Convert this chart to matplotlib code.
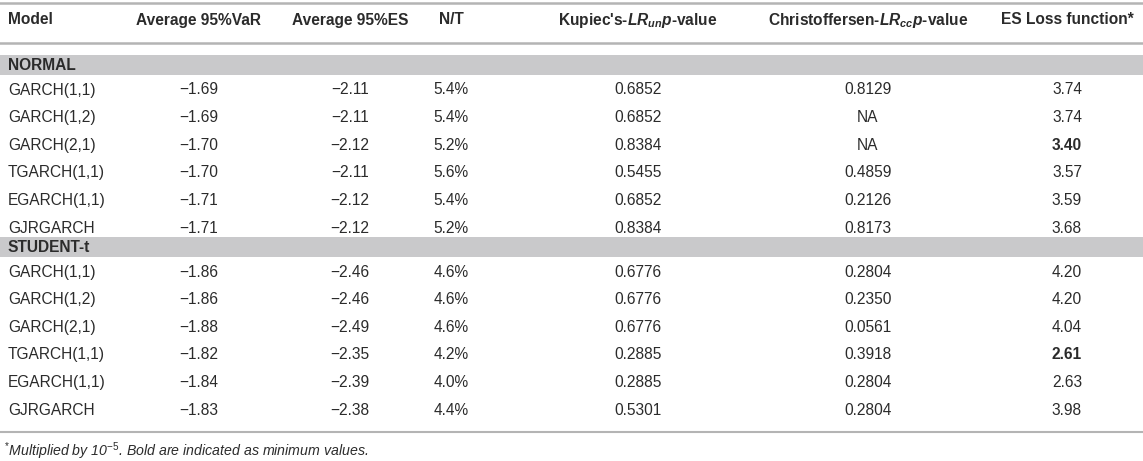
import matplotlib
matplotlib.use("Agg")
import matplotlib.pyplot as plt

plt.rcParams['font.family'] = ['Liberation Sans', 'DejaVu Sans']
plt.rcParams['mathtext.fontset'] = 'custom'
plt.rcParams['mathtext.rm'] = 'Liberation Sans'
plt.rcParams['mathtext.it'] = 'Liberation Sans:italic'
plt.rcParams['mathtext.bf'] = 'Liberation Sans:bold'
plt.rcParams['mathtext.bfit'] = 'Liberation Sans:italic:bold'

# table data
headers = ["Model", "Average 95%VaR", "Average 95%ES", "N/T",
           r"Kupiec's-$\mathbfit{LR}_{\mathbfit{un}}\mathbfit{p}$-value",
           r"Christoffersen-$\mathbfit{LR}_{\mathbfit{cc}}\mathbfit{p}$-value",
           "ES Loss function*"]
models = ["GARCH(1,1)", "GARCH(1,2)", "GARCH(2,1)", "TGARCH(1,1)", "EGARCH(1,1)", "GJRGARCH"]
groups = ["NORMAL", "STUDENT-t"]

normal_var = [-1.69, -1.69, -1.70, -1.70, -1.71, -1.71]
normal_es = [-2.11, -2.11, -2.12, -2.11, -2.12, -2.12]
normal_nt = [5.4, 5.4, 5.2, 5.6, 5.4, 5.2]
normal_kup = [0.6852, 0.6852, 0.8384, 0.5455, 0.6852, 0.8384]
normal_chr = [0.8129, None, None, 0.4859, 0.2126, 0.8173]
normal_loss = [3.74, 3.74, 3.40, 3.57, 3.59, 3.68]

student_var = [-1.86, -1.86, -1.88, -1.82, -1.84, -1.83]
student_es = [-2.46, -2.46, -2.49, -2.35, -2.39, -2.38]
student_nt = [4.6, 4.6, 4.6, 4.2, 4.0, 4.4]
student_kup = [0.6776, 0.6776, 0.6776, 0.2885, 0.2885, 0.5301]
student_chr = [0.2804, 0.2350, 0.0561, 0.3918, 0.2804, 0.2804]
student_loss = [4.20, 4.20, 4.04, 2.61, 2.63, 3.98]

footnote = r"$^{*}$Multiplied by 10$^{-5}$. Bold are indicated as minimum values."

# layout (pixels)
W, H = 1143, 461
col_x = [8, 199, 350, 451, 638, 868, 1067]
txt = '#2b2b2b'
line_c = '#b4b4b4'
band_c = '#c9c9cb'
fs = 11.2

fig = plt.figure(figsize=(W / 100, H / 100), dpi=100)
ax = fig.add_axes([0, 0, 1, 1])
ax.set_xlim(0, W)
ax.set_ylim(H, 0)
ax.axis('off')


def fmt(v):
    if v is None:
        return "NA"
    return ("%.2f" % v).replace("-", "\u2212")


def put(x, y, s, bold=False, ha='center'):
    ax.text(x, y, s, ha=ha, va='center', fontsize=fs, color=txt,
            fontweight='bold' if bold else 'normal')


ax.axhline(3, color=line_c, lw=1.8)
ax.axhline(43, color=line_c, lw=1.8)
ax.axhline(432, color=line_c, lw=1.5)

for i, h in enumerate(headers):
    put(col_x[i], 20, h, bold=True, ha='left' if i == 0 else 'center')

blocks = [
    (groups[0], 55, normal_var, normal_es, normal_nt, normal_kup, normal_chr, normal_loss),
    (groups[1], 237, student_var, student_es, student_nt, student_kup, student_chr, student_loss),
]
for name, top, var, es, nt, kup, chr_, loss in blocks:
    ax.add_patch(plt.Rectangle((0, top), W, 20, color=band_c, lw=0))
    put(8, top + 10, name, bold=True, ha='left')
    best = min(loss)
    for j, m in enumerate(models):
        y = top + 35 + j * 27.6
        put(col_x[0], y, m, ha='left')
        put(col_x[1], y, fmt(var[j]))
        put(col_x[2], y, fmt(es[j]))
        put(col_x[3], y, "%.1f%%" % nt[j])
        put(col_x[4], y, "%.4f" % kup[j])
        put(col_x[5], y, "NA" if chr_[j] is None else "%.4f" % chr_[j])
        put(col_x[6], y, "%.2f" % loss[j], bold=(loss[j] == best))

ax.text(4, 451, footnote, ha='left', va='center', fontsize=10.2, color=txt, style='italic')

fig.savefig("out.png", dpi=100)
